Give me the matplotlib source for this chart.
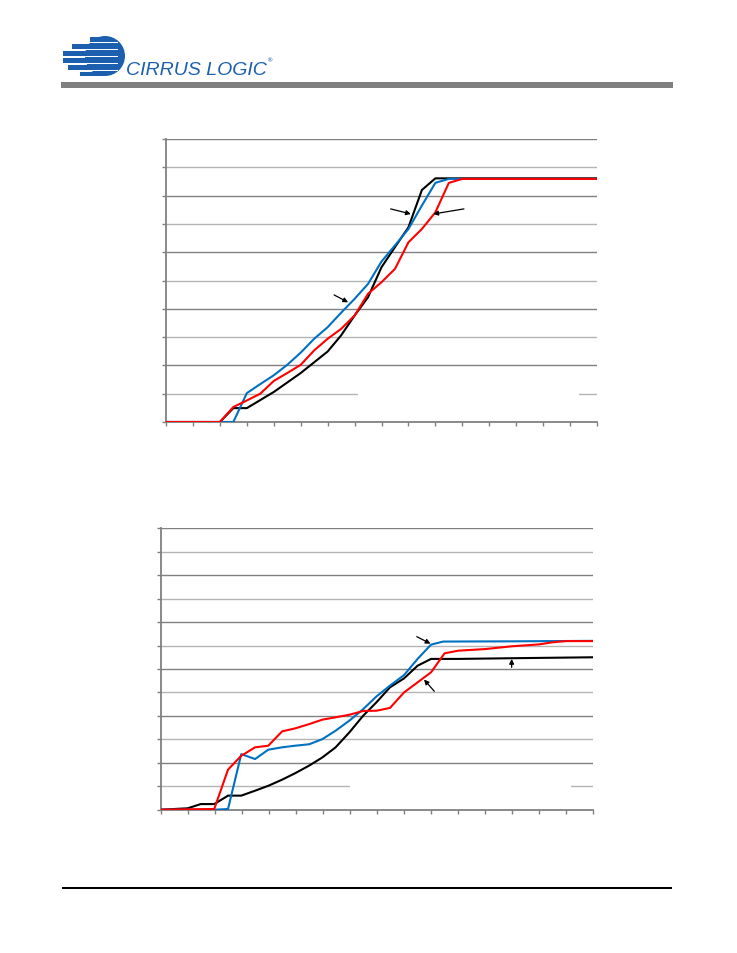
import matplotlib
matplotlib.use('Agg')

import numpy as np
import matplotlib.pyplot as plt
from matplotlib.patches import Rectangle, Circle

# ---- top chart data (x in axis units 0..16, y in grid units 0..10)
top_black_x = [0, 2.0, 2.5, 3.0, 4.0, 5.0, 6.0, 6.5, 7.0, 7.5, 8.0, 8.5, 9.0, 9.5, 10.0, 16]
top_black_y = [0, 0, 0.49, 0.49, 1.06, 1.73, 2.49, 3.06, 3.76, 4.41, 5.47, 6.18, 6.88, 8.2, 8.61, 8.61]
top_blue_x = [0, 2.0, 2.5, 3.0, 3.5, 4.0, 4.5, 5.0, 5.5, 6.0, 6.5, 7.0, 7.5, 8.0, 8.5, 9.0, 9.5, 10.0, 10.5, 11.0, 16]
top_blue_y = [0, 0, 0, 1.02, 1.34, 1.65, 2.02, 2.45, 2.94, 3.35, 3.86, 4.35, 4.88, 5.67, 6.24, 6.82, 7.65, 8.45, 8.59, 8.59, 8.59]
top_red_x = [0, 2.0, 2.5, 3.0, 3.5, 4.0, 4.5, 5.0, 5.5, 6.0, 6.5, 7.0, 7.5, 8.0, 8.5, 9.0, 9.5, 10.0, 10.5, 11.0, 16]
top_red_y = [0, 0, 0.53, 0.76, 1.0, 1.45, 1.73, 2.02, 2.53, 2.94, 3.29, 3.76, 4.53, 4.94, 5.41, 6.35, 6.82, 7.41, 8.45, 8.59, 8.59]

# ---- bottom chart data (x 0..16, y in grid units 0..12)
bot_black_x = [0, 1.0, 1.48, 1.98, 2.49, 2.98, 3.49, 3.98, 4.49, 4.98, 5.49, 5.98, 6.47, 6.98, 7.49, 7.98, 8.48, 9.0, 9.5, 10.0, 11.0, 13.0, 16.0]
bot_black_y = [0, 0.06, 0.24, 0.24, 0.6, 0.6, 0.81, 1.02, 1.28, 1.56, 1.88, 2.23, 2.66, 3.3, 4.01, 4.58, 5.22, 5.6, 6.14, 6.43, 6.43, 6.46, 6.5]
bot_blue_x = [0, 2.0, 2.49, 2.98, 3.49, 3.98, 4.49, 4.98, 5.49, 5.98, 6.47, 6.98, 7.49, 7.98, 8.48, 9.0, 9.5, 10.0, 10.45, 13.0, 16.0]
bot_blue_y = [0, 0, 0.03, 2.37, 2.16, 2.56, 2.66, 2.73, 2.79, 3.01, 3.37, 3.8, 4.29, 4.83, 5.29, 5.74, 6.43, 7.04, 7.17, 7.18, 7.2]
bot_red_x = [0, 1.98, 2.49, 2.98, 3.49, 3.98, 4.49, 4.98, 5.49, 5.98, 6.47, 6.98, 7.49, 7.98, 8.48, 9.0, 9.5, 10.0, 10.5, 11.0, 12.0, 13.0, 14.0, 14.5, 15.0, 16.0]
bot_red_y = [0, 0.03, 1.71, 2.3, 2.66, 2.73, 3.34, 3.47, 3.65, 3.84, 3.94, 4.05, 4.21, 4.22, 4.34, 5.0, 5.43, 5.86, 6.67, 6.78, 6.85, 6.97, 7.05, 7.14, 7.19, 7.19]

# arrows: (tail_x, tail_y, head_x, head_y)
top_arrows = [(8.34, 7.53, 9.09, 7.35), (11.06, 7.53, 9.92, 7.35), (6.24, 4.49, 6.76, 4.23)]
bot_arrows = [(9.47, 7.38, 9.98, 7.08), (10.12, 5.05, 9.74, 5.55), (12.98, 6.07, 12.98, 6.43)]

BLUE = '#0070c0'
RED = '#ff0000'
DARK = '#808080'
LIGHT = '#b4b4b4'

fig = plt.figure(figsize=(7.37, 9.54), dpi=100)


def setup(ax, ny, box):
    ax.set_xlim(0, 16)
    ax.set_ylim(0, ny)
    for y in range(1, ny + 1):
        ax.axhline(y, color=DARK if y % 2 == 0 else LIGHT, lw=1.0, zorder=1)
    for s in ['top', 'right']:
        ax.spines[s].set_visible(False)
    for s in ['left', 'bottom']:
        ax.spines[s].set_color(DARK)
        ax.spines[s].set_linewidth(1.3)
    ax.set_xticks(range(17))
    ax.set_yticks(range(ny + 1))
    ax.set_xticklabels([])
    ax.set_yticklabels([])
    ax.tick_params(direction='out', length=3, width=1, color=DARK)
    # blank legend box (covers a gridline)
    ax.add_patch(Rectangle((box[0], 0.35), box[1] - box[0], 1.3, facecolor='white',
                           edgecolor='none', zorder=2))


def arrows(ax, lst):
    for tx, ty, hx, hy in lst:
        ax.annotate('', xy=(hx, hy), xytext=(tx, ty),
                    arrowprops=dict(arrowstyle='-|>', color='black', lw=0.9,
                                    mutation_scale=7, shrinkA=0, shrinkB=0), zorder=5)


ax1 = fig.add_axes([166 / 737, 1 - 423 / 954, 431 / 737, 283 / 954])
setup(ax1, 10, (7.13, 15.33))
ax1.plot(top_black_x, top_black_y, color='black', lw=1.5, zorder=3)
ax1.plot(top_blue_x, top_blue_y, color=BLUE, lw=1.5, zorder=3)
ax1.plot(top_red_x, top_red_y, color=RED, lw=1.5, zorder=4)
arrows(ax1, top_arrows)

ax2 = fig.add_axes([160.7 / 737, 1 - 810.7 / 954, 432.6 / 737, 281.4 / 954])
setup(ax2, 12, (7.0, 15.17))
ax2.plot(bot_black_x, bot_black_y, color='black', lw=1.5, zorder=3)
ax2.plot(bot_blue_x, bot_blue_y, color=BLUE, lw=1.5, zorder=3)
ax2.plot(bot_red_x, bot_red_y, color=RED, lw=1.5, zorder=4)
arrows(ax2, bot_arrows)

# ---- page decorations in pixel coordinates
deco = fig.add_axes([0, 0, 1, 1], zorder=-1)
deco.set_xlim(0, 737)
deco.set_ylim(954, 0)
deco.axis('off')

LOGO = '#1b5fae'
deco.add_patch(Circle((105, 57), 20, facecolor=LOGO, edgecolor='none'))
bands = [(37.5, 42.5, 90), (44.5, 49.5, 72), (51.5, 56.5, 63), (58.5, 63.5, 63), (65.5, 70.5, 68), (72.5, 76.5, 80)]
for y0, y1, x0 in bands:
    deco.add_patch(Rectangle((x0, y0), 105 - x0, y1 - y0, facecolor=LOGO, edgecolor='none'))
for yg in [43.5, 50.5, 57.5, 64.5, 71.5]:
    deco.add_patch(Rectangle((60, yg - 0.7), 58, 1.4, facecolor='white', edgecolor='none'))
deco.text(126, 75, 'CIRRUS LOGIC', color=LOGO, fontsize=14, style='italic',
          family='Liberation Sans', ha='left', va='baseline')
deco.text(266, 62, '®', color=LOGO, fontsize=4.5, ha='left', va='baseline')

deco.add_patch(Rectangle((61, 82.7), 612, 6.6, facecolor='#808080', edgecolor='none'))
deco.add_patch(Rectangle((62, 887.5), 610, 2.5, facecolor='black', edgecolor='none'))

fig.savefig('out.png', dpi=100)
